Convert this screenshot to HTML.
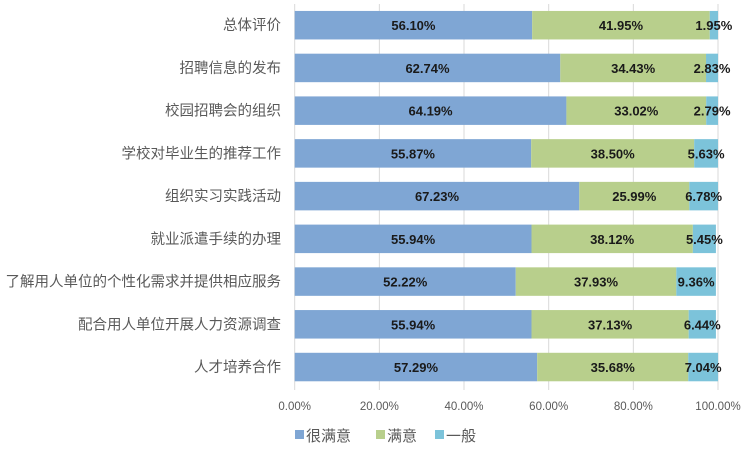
<!DOCTYPE html>
<html><head><meta charset="utf-8"><style>
body{margin:0;background:#fff;}
svg text{font-family:"Liberation Sans","Noto Sans CJK SC",sans-serif;}
</style></head><body>
<svg id="chart" width="743" height="448"></svg>
<script>
const categories=["总体评价","招聘信息的发布","校园招聘会的组织","学校对毕业生的推荐工作","组织实习实践活动","就业派遣手续的办理","了解用人单位的个性化需求并提供相应服务","配合用人单位开展人力资源调查","人才培养合作"];
const verySatisfied=[56.10,62.74,64.19,55.87,67.23,55.94,52.22,55.94,57.29];
const satisfied=[41.95,34.43,33.02,38.50,25.99,38.12,37.93,37.13,35.68];
const average=[1.95,2.83,2.79,5.63,6.78,5.45,9.36,6.44,7.04];
const ticks=[0,20,40,60,80,100];
const seriesNames=["很满意","满意","一般"];

const NS="http://www.w3.org/2000/svg";
const svg=document.getElementById('chart');
const x0=294.7,x1=718,yTop=4,step=42.73,bh=28.5;
const xs=v=>x0+(x1-x0)*v/100;
const yc=i=>25.2+i*step;
const colors=["#7fa6d4","#b8cf8c","#7cc3da"];
function mk(tag,attrs,txt){const e=document.createElementNS(NS,tag);for(const k in attrs)e.setAttribute(k,attrs[k]);if(txt!==undefined)e.textContent=txt;svg.appendChild(e);return e;}
ticks.forEach(t=>{
  const g=mk('line',{x1:xs(t),x2:xs(t),y1:yTop,y2:390,stroke:'#d9d9d9','stroke-width':1});
  
  
  const l=mk('text',{x:xs(t),y:410,'text-anchor':'middle','font-size':11.5,fill:'#595959'},t.toFixed(2)+'%');
  
  
});
const series=[verySatisfied,satisfied,average];
categories.forEach((c,i)=>{
  const cl=mk('text',{x:281,y:yc(i)+5,'text-anchor':'end','font-size':14.5,fill:'#595959'},c);
  
  
  let acc=0;
  series.forEach((s,k)=>{
    const v=s[i];
    const r=mk('rect',{x:xs(acc),y:yc(i)-bh/2,width:xs(acc+v)-xs(acc),height:bh,fill:colors[k]});
    
    
    const t=mk('text',{x:(xs(acc)+xs(acc+v))/2,y:yc(i)+5,'text-anchor':'middle','font-size':13,'font-weight':'bold',fill:'#1a1a1a'},v.toFixed(2)+'%');
    
    
    acc+=v;
  });
});
const lx=[295,376,435];
seriesNames.forEach((n,k)=>{
  const r=mk('rect',{x:lx[k],y:430,width:9,height:9,fill:colors[k]});
  
  
  const t=mk('text',{x:lx[k]+11,y:441,'font-size':15,fill:'#595959'},n);
  
  
});
</script>
</body></html>
